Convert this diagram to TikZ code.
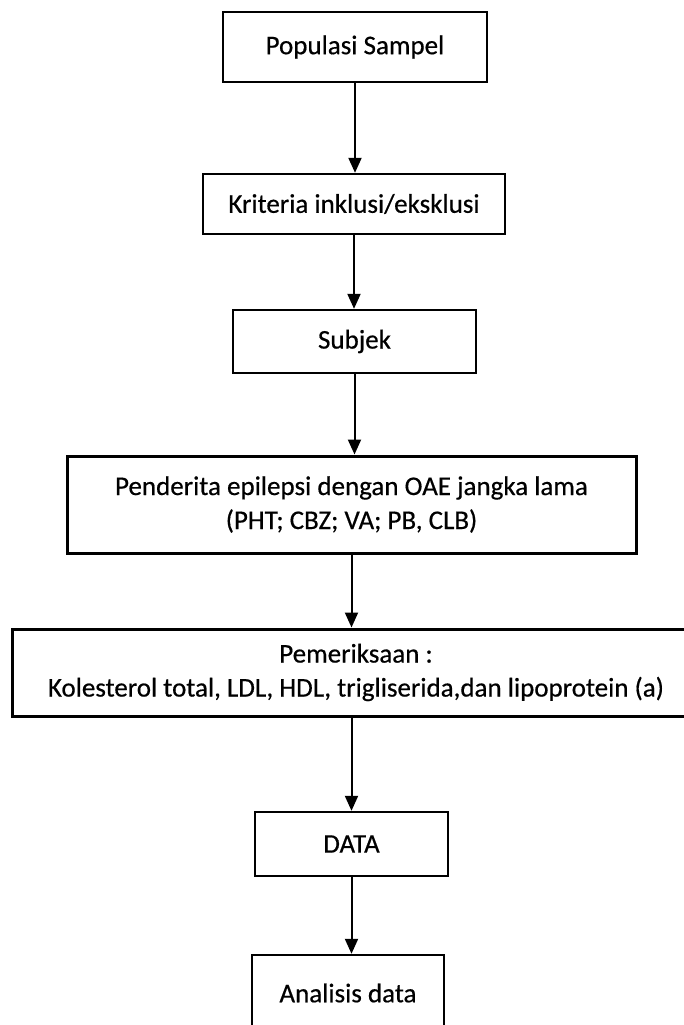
\documentclass[tikz,border=0pt]{standalone}
\usepackage{fontspec}
\setmainfont{Carlito}[UprightFeatures={FakeBold=0.5}]
\usetikzlibrary{arrows.meta}

\tikzset{
  flowbox/.style={draw, line width=2.4pt, align=center, inner sep=0pt,
                  font=\fontsize{27}{34}\selectfont},
  widebox/.style={flowbox, line width=3pt},
  flowarrow/.style={line width=2pt, -{Triangle[length=15pt,width=13pt]}}
}

\begin{document}
\begin{tikzpicture}[x=1pt,y=-1pt]

    % --- Frame (size of the scanned page) ---
    \useasboundingbox (0,0) rectangle (684,1025);

    % --- Boxes (centres, y grows downwards) ---
    \node[flowbox, minimum width=264pt, minimum height=70pt] (pop) at (355,47) {Populasi Sampel};
    \node[flowbox, minimum width=302pt, minimum height=60pt] (krit) at (354,204) {Kriteria inklusi/eksklusi};
    \node[flowbox, minimum width=243pt, minimum height=63pt] (subj) at (354.5,341.5) {Subjek};
    % wide box with the two-line text
    \node[widebox, minimum width=569pt, minimum height=97pt] (pend) at (351.5,504.5)
        {Penderita epilepsi dengan OAE jangka lama\\(PHT; CBZ; VA; PB, CLB)};
    % this one runs past the right edge of the page
    \node[widebox, minimum width=688pt, minimum height=87pt] (periksa) at (356,672.5)
        {Pemeriksaan :\\Kolesterol total, LDL, HDL, trigliserida,dan lipoprotein (a)};
    \node[flowbox, minimum width=193pt, minimum height=64pt] (data) at (351.5,844) {DATA};
    % bottom edge is cut off by the page
    \node[flowbox, minimum width=192pt, minimum height=76pt] (anal) at (348,993) {Analisis data};

    % --- Arrows (straight down from each box) ---
    \draw[flowarrow] (pop.south) -- (pop.south |- krit.north);
    \draw[flowarrow] (krit.south) -- (krit.south |- subj.north);
    \draw[flowarrow] (subj.south) -- (subj.south |- pend.north);
    \draw[flowarrow] (pend.south) -- (pend.south |- periksa.north);
    \draw[flowarrow] (data.north |- periksa.south) -- (data.north);
    \draw[flowarrow] (data.south) -- (data.south |- anal.north);

\end{tikzpicture}
\end{document}
